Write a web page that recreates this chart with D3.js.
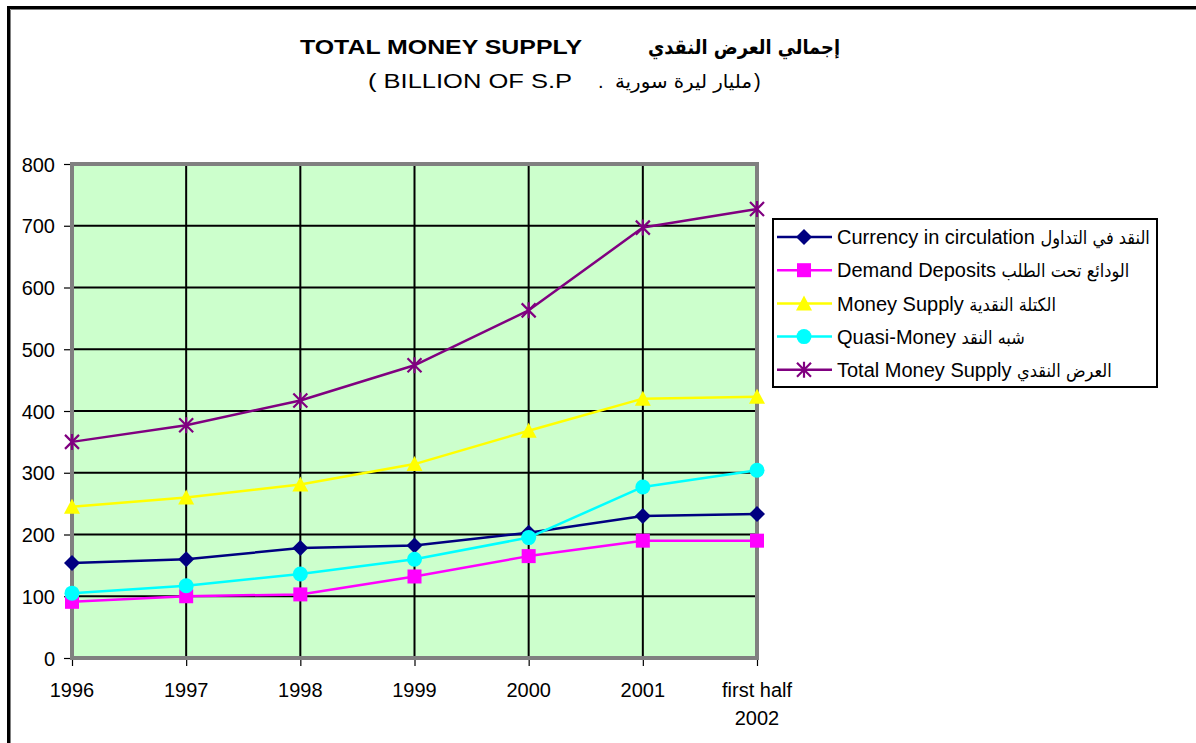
<!DOCTYPE html>
<html>
<head>
<meta charset="utf-8">
<script src="https://cdn.jsdelivr.net/npm/d3@7"></script>
<style>
	body { margin: 0; background: #ffffff; overflow: hidden; }
	svg { display: block; overflow: hidden; }
	text { font-family: Arial, "Liberation Sans", "DejaVu Sans", sans-serif; }
	.ar { font-family: "DejaVu Sans Condensed", "DejaVu Sans", sans-serif; font-stretch: condensed; }
</style>
</head>
<body>
<script>
// data (billion S.P)
var years = ["1996", "1997", "1998", "1999", "2000", "2001", "first half 2002"];
var currency = [154, 160, 178, 182, 203, 230, 233];
var demand = [91, 100, 103, 132, 165, 190, 190];
var moneySupply = [245, 260, 281, 314, 368, 420, 423];
var quasi = [105, 117, 136, 160, 195, 277, 304];
var total = [350, 377, 417, 474, 563, 697, 727];
var yTicks = [0, 100, 200, 300, 400, 500, 600, 700, 800];

var namesEn = ["Currency in circulation", "Demand Deposits", "Money Supply", "Quasi-Money", "Total Money Supply"];
var namesAr = ["النقد في التداول", "الودائع تحت الطلب", "الكتلة النقدية", "شبه النقد", "العرض النقدي"];

var series = [
	{ en: namesEn[0], ar: namesAr[0], values: currency, color: "#000080", marker: "diamond" },
	{ en: namesEn[1], ar: namesAr[1], values: demand, color: "#ff00ff", marker: "square" },
	{ en: namesEn[2], ar: namesAr[2], values: moneySupply, color: "#ffff00", marker: "triangle" },
	{ en: namesEn[3], ar: namesAr[3], values: quasi, color: "#00ffff", marker: "circle" },
	{ en: namesEn[4], ar: namesAr[4], values: total, color: "#800080", marker: "star" }
];

var W = 1196, H = 743;
var plot = { left: 72, right: 757, top: 164, bottom: 658 };

var svg = d3.select("body").append("svg")
	.attr("width", W)
	.attr("height", H);

// outer chart frame (cut off at right and bottom)
svg.append("path")
	.attr("d", "M8.5,760 V7.5 H1210")
	.attr("fill", "none")
	.attr("stroke", "#000000")
	.attr("stroke-width", 3);
svg.append("path")
	.attr("d", "M10.5,760 V9.5 H1210")
	.attr("fill", "none")
	.attr("stroke", "#808080")
	.attr("stroke-width", 1);

var xScale = d3.scalePoint()
	.domain(years)
	.range([plot.left, plot.right])
	.padding(0);

var yScale = d3.scaleLinear()
	.domain([0, 800])
	.range([plot.bottom, plot.top]);

// plot area
svg.append("rect")
	.attr("x", plot.left).attr("y", plot.top)
	.attr("width", plot.right - plot.left)
	.attr("height", plot.bottom - plot.top)
	.attr("fill", "#ccffcc");

// grid
svg.append("g")
	.selectAll("line")
	.data(yTicks.filter(function(d) { return d > 0 && d < 800; }))
	.enter().append("line")
	.attr("x1", plot.left).attr("x2", plot.right)
	.attr("y1", function(d) { return yScale(d); })
	.attr("y2", function(d) { return yScale(d); })
	.attr("stroke", "#000000")
	.attr("stroke-width", 2);

svg.append("g")
	.selectAll("line")
	.data(years.slice(1, years.length - 1))
	.enter().append("line")
	.attr("y1", plot.top).attr("y2", plot.bottom)
	.attr("x1", function(d) { return xScale(d); })
	.attr("x2", function(d) { return xScale(d); })
	.attr("stroke", "#000000")
	.attr("stroke-width", 2);

svg.append("rect")
	.attr("x", plot.left).attr("y", plot.top)
	.attr("width", plot.right - plot.left)
	.attr("height", plot.bottom - plot.top)
	.attr("fill", "none")
	.attr("stroke", "#808080")
	.attr("stroke-width", 4);

// axes
var yAxis = d3.axisLeft(yScale)
	.tickValues(yTicks)
	.tickSizeInner(6)
	.tickSizeOuter(0)
	.tickPadding(9);

var gy = svg.append("g")
	.attr("transform", "translate(" + (plot.left - 2) + ",0)")
	.call(yAxis);
gy.select(".domain").remove();
gy.selectAll("line").attr("stroke", "#000000").attr("stroke-width", 1.2);
gy.selectAll("text")
	.attr("fill", "#000000")
	.style("font-size", "20px")
	.attr("dy", "0.36em");

var xAxis = d3.axisBottom(xScale)
	.tickSizeInner(6)
	.tickSizeOuter(0)
	.tickFormat(function() { return ""; });

var gx = svg.append("g")
	.attr("transform", "translate(0," + (plot.bottom + 2) + ")")
	.call(xAxis);
gx.select(".domain").remove();
gx.selectAll("line").attr("stroke", "#000000").attr("stroke-width", 1.2);

var xLabels = svg.append("g");
years.forEach(function(d) {
	var parts = d === "first half 2002" ? ["first half", "2002"] : [d];
	var t = xLabels.append("text")
		.attr("text-anchor", "middle")
		.attr("fill", "#000000")
		.style("font-size", "20px");
	parts.forEach(function(p, i) {
		t.append("tspan")
			.attr("x", xScale(d))
			.attr("y", 697 + i * 28)
			.text(p);
	});
});

// markers
var markerSize = 14;
function drawMarker(g, type, x, y, color) {
	var r = markerSize / 2;
	if (type === "diamond") {
		g.append("path")
			.attr("d", "M" + x + "," + (y - r - 1) + "L" + (x + r + 1) + "," + y + "L" + x + "," + (y + r + 1) + "L" + (x - r - 1) + "," + y + "Z")
			.attr("fill", color);
	} else if (type === "square") {
		g.append("rect")
			.attr("x", x - r).attr("y", y - r)
			.attr("width", markerSize).attr("height", markerSize)
			.attr("fill", color);
	} else if (type === "triangle") {
		g.append("path")
			.attr("d", "M" + x + "," + (y - r - 1) + "L" + (x + r + 1) + "," + (y + r) + "L" + (x - r - 1) + "," + (y + r) + "Z")
			.attr("fill", color);
	} else if (type === "circle") {
		g.append("circle")
			.attr("cx", x).attr("cy", y).attr("r", r + 0.5)
			.attr("fill", color);
	} else if (type === "star") {
		g.append("path")
			.attr("d", "M" + (x - r) + "," + (y - r) + "L" + (x + r) + "," + (y + r) +
				"M" + (x + r) + "," + (y - r) + "L" + (x - r) + "," + (y + r) +
				"M" + x + "," + (y - r - 1) + "L" + x + "," + (y + r + 1))
			.attr("fill", "none")
			.attr("stroke", color)
			.attr("stroke-width", 2.2);
	}
}

var lineDraw = d3.line()
	.x(function(d, i) { return xScale(years[i]); })
	.y(function(d) { return yScale(d); });

series.forEach(function(s) {
	var g = svg.append("g");
	g.append("path")
		.datum(s.values)
		.attr("fill", "none")
		.attr("stroke", s.color)
		.attr("stroke-width", 2.5)
		.attr("stroke-linejoin", "round")
		.attr("d", lineDraw);
	s.values.forEach(function(v, i) {
		drawMarker(g, s.marker, xScale(years[i]), yScale(v), s.color);
	});
});

// legend
var legend = svg.append("g");
legend.append("rect")
	.attr("x", 773).attr("y", 219)
	.attr("width", 384).attr("height", 168)
	.attr("fill", "#ffffff")
	.attr("stroke", "#000000")
	.attr("stroke-width", 2);

series.forEach(function(s, i) {
	var y = 237 + i * 33.2;
	legend.append("line")
		.attr("x1", 777).attr("x2", 832)
		.attr("y1", y).attr("y2", y)
		.attr("stroke", s.color)
		.attr("stroke-width", 2.5);
	drawMarker(legend, s.marker, 804, y, s.color);
	var t = legend.append("text")
		.attr("x", 837)
		.attr("y", y)
		.attr("dy", "0.36em")
		.attr("fill", "#000000")
		.style("font-size", "20px");
	t.append("tspan").text(s.en + " ");
	t.append("tspan").attr("class", "ar").style("font-size", "18px").text(s.ar);
});

// titles
svg.append("text")
	.attr("x", 300).attr("y", 54)
	.attr("textLength", 282)
	.attr("lengthAdjust", "spacingAndGlyphs")
	.style("font-size", "20px")
	.style("font-weight", "bold")
	.text("TOTAL MONEY SUPPLY");
svg.append("text")
	.attr("class", "ar")
	.attr("x", 648).attr("y", 54)
	.attr("textLength", 192)
	.attr("lengthAdjust", "spacingAndGlyphs")
	.style("font-size", "20px")
	.style("font-weight", "bold")
	.text("إجمالي العرض النقدي");

svg.append("text")
	.attr("x", 368).attr("y", 88)
	.attr("textLength", 204)
	.attr("lengthAdjust", "spacingAndGlyphs")
	.style("font-size", "20px")
	.text("( BILLION OF S.P");
svg.append("text")
	.attr("x", 598).attr("y", 88)
	.style("font-size", "20px")
	.text(".");
svg.append("text")
	.attr("class", "ar")
	.attr("x", 615).attr("y", 88)
	.attr("textLength", 137)
	.attr("lengthAdjust", "spacingAndGlyphs")
	.style("font-size", "19px")
	.text("مليار ليرة سورية");
svg.append("text")
	.attr("x", 754).attr("y", 88)
	.style("font-size", "20px")
	.text(")");
</script>
</body>
</html>
